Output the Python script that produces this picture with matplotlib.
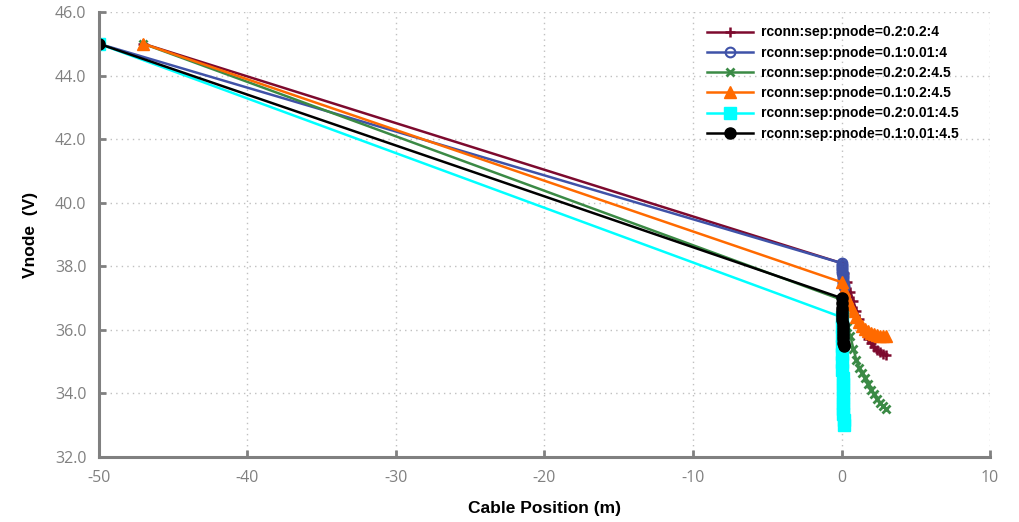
import numpy as np
import matplotlib.pyplot as plt
from matplotlib import font_manager

plt.rcParams['axes.unicode_minus'] = False

# node positions (first point is the far cable end)
x_sep02 = [-47, 0, 0.2, 0.4, 0.6, 0.8, 1.0, 1.2, 1.4, 1.6, 1.8, 2.0, 2.2, 2.4, 2.6, 2.8, 3.0]
x_sep001 = [-50, 0, 0.01, 0.02, 0.03, 0.04, 0.05, 0.06, 0.07, 0.08, 0.09, 0.10, 0.11, 0.12, 0.13, 0.14, 0.15]

v_02_02_4 = [45.0, 38.1, 37.8, 37.5, 37.2, 36.9, 36.6, 36.35, 36.1, 35.9, 35.72, 35.58, 35.46, 35.37, 35.3, 35.24, 35.2]
v_01_001_4 = [45.0, 38.1, 38.05, 38.0, 37.95, 37.9, 37.85, 37.8, 37.75, 37.7, 37.65, 37.6, 37.55, 37.5, 37.45, 37.4, 37.35]
v_02_02_45 = [45.0, 36.95, 36.5, 36.1, 35.8, 35.4, 35.05, 34.8, 34.65, 34.5, 34.3, 34.12, 33.98, 33.83, 33.7, 33.6, 33.5]
v_01_02_45 = [45.0, 37.5, 37.25, 37.0, 36.78, 36.58, 36.4, 36.25, 36.12, 36.02, 35.95, 35.9, 35.86, 35.83, 35.81, 35.8, 35.8]
v_02_001_45 = [45.0, 36.4, 36.1, 35.8, 35.5, 35.25, 35.0, 34.75, 34.5, 34.3, 34.1, 33.9, 33.7, 33.5, 33.35, 33.15, 33.0]
v_01_001_45 = [45.0, 37.0, 36.85, 36.7, 36.6, 36.5, 36.4, 36.3, 36.2, 36.1, 36.0, 35.9, 35.8, 35.7, 35.6, 35.55, 35.5]

labels = ['rconn:sep:pnode=0.2:0.2:4', 'rconn:sep:pnode=0.1:0.01:4',
          'rconn:sep:pnode=0.2:0.2:4.5', 'rconn:sep:pnode=0.1:0.2:4.5',
          'rconn:sep:pnode=0.2:0.01:4.5', 'rconn:sep:pnode=0.1:0.01:4.5']

names = {f.name for f in font_manager.fontManager.ttflist}
narrow = 'Liberation Sans Narrow' if 'Liberation Sans Narrow' in names else 'Liberation Sans'

fig = plt.figure(figsize=(10.2, 5.22), dpi=100)
ax = fig.add_axes([0.097, 0.1245, 0.8736, 0.8525])

ax.plot(x_sep02, v_02_02_4, color='#7d0a2e', lw=1.8, marker='+', ms=7, mew=1.8, label=labels[0])
ax.plot(x_sep001, v_01_001_4, color='#3f52a8', lw=1.8, marker='o', ms=7, mew=1.5, mfc='none', label=labels[1])
ax.plot(x_sep02, v_02_02_45, color='#3b8a45', lw=1.8, marker='x', ms=6, mew=2, label=labels[2])
ax.plot(x_sep02, v_01_02_45, color='#ff6a00', lw=1.8, marker='^', ms=9, label=labels[3])
ax.plot(x_sep001, v_02_001_45, color='#00ffff', lw=1.8, marker='s', ms=8, label=labels[4])
ax.plot(x_sep001, v_01_001_45, color='black', lw=1.8, marker='o', ms=8, label=labels[5])

ax.set_xlim(-50, 10)
ax.set_ylim(32, 46)
ax.set_xticks([-50, -40, -30, -20, -10, 0, 10])
ax.set_yticks(np.arange(32, 46.1, 2))
ax.set_yticklabels([f'{v:.1f}' for v in np.arange(32, 46.1, 2)])

ax.grid(True, color='#c0c0c0', linestyle=(0, (1, 3)), lw=1)
for s in ['top', 'right']:
    ax.spines[s].set_visible(False)
for s in ['left', 'bottom']:
    ax.spines[s].set_color('#808080')
    ax.spines[s].set_linewidth(2.2)
ax.tick_params(direction='in', length=5, width=2, color='#808080',
               labelcolor='#808080', labelsize=11.5, pad=9)
for t in ax.get_xticklabels() + ax.get_yticklabels():
    t.set_fontfamily('Open Sans')

ax.set_xlabel('Cable Position (m)', family=narrow, fontweight='bold', fontsize=12.5, labelpad=11)
ax.set_ylabel('Vnode  (V)', family=narrow, fontweight='bold', fontsize=12.5, labelpad=12)

fig.legend(loc='upper left', bbox_to_anchor=(0.688, 0.962), frameon=False,
           prop={'family': narrow, 'weight': 'bold', 'size': 10},
           handlelength=3.3, handletextpad=0.6, labelspacing=0.45, borderaxespad=0)

fig.savefig('out.png', dpi=100)
